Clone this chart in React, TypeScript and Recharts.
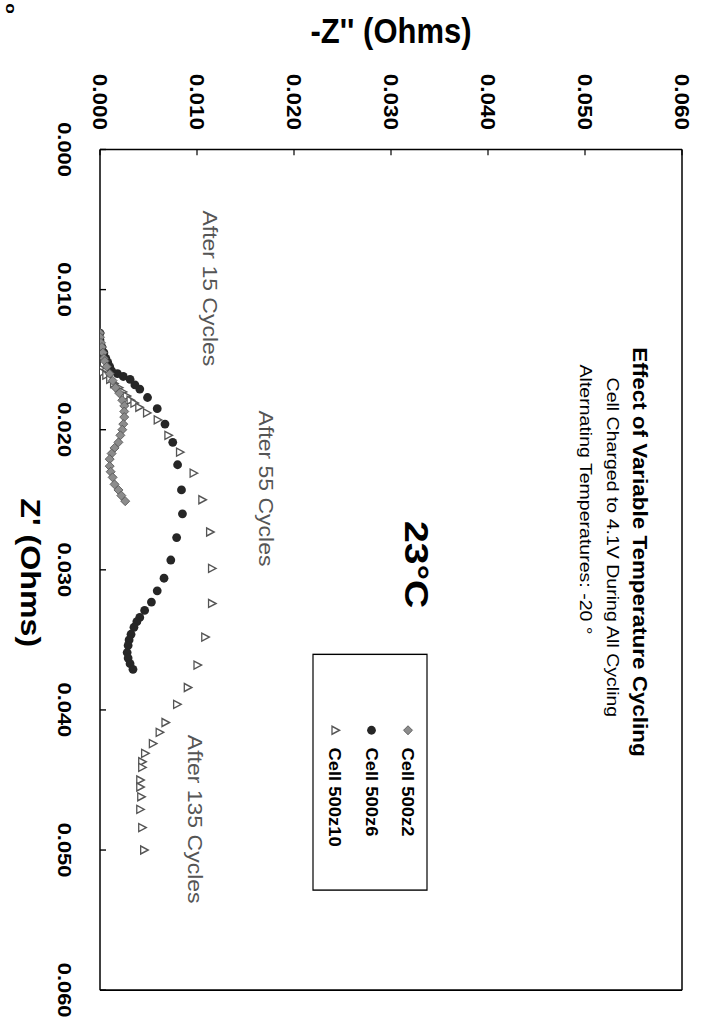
import React from 'react';
import { ScatterChart, Scatter, XAxis, YAxis, ReferenceLine } from 'recharts';

// Impedance readings (Ohms): Z' is the real part, -Z'' the negated imaginary part.
const cell500z2ZRe = [0.0131, 0.0134, 0.0138, 0.0141, 0.0145, 0.0149, 0.0151, 0.0155, 0.016, 0.0165, 0.017, 0.0174, 0.0179, 0.0183, 0.0187, 0.0191, 0.0196, 0.02, 0.0204, 0.0209, 0.0213, 0.0217, 0.0221, 0.0226, 0.023, 0.0234, 0.0239, 0.0243, 0.0247, 0.0251];
const cell500z2ZIm = [0.0, 0.0, 0.0001, 0.0002, 0.0003, 0.0004, 0.0005, 0.0007, 0.001, 0.0013, 0.0016, 0.002, 0.0023, 0.0025, 0.0025, 0.0025, 0.0024, 0.0023, 0.0021, 0.0019, 0.0015, 0.0012, 0.001, 0.001, 0.0011, 0.0013, 0.0015, 0.0019, 0.0022, 0.0026];

const cell500z6ZRe = [0.0131, 0.0136, 0.0141, 0.0145, 0.0149, 0.0152, 0.0155, 0.0158, 0.016, 0.0162, 0.0164, 0.0168, 0.0171, 0.0177, 0.0185, 0.0196, 0.0209, 0.0225, 0.0243, 0.026, 0.0277, 0.0293, 0.0306, 0.0315, 0.0323, 0.0329, 0.0334, 0.0337, 0.0341, 0.0346, 0.035, 0.0354, 0.0359, 0.0363, 0.0367, 0.0371];
const cell500z6ZIm = [0.0, 0.0, 0.0002, 0.0004, 0.0006, 0.0008, 0.001, 0.0012, 0.0018, 0.0024, 0.0031, 0.0036, 0.0041, 0.0049, 0.0059, 0.0067, 0.0075, 0.008, 0.0084, 0.0085, 0.0079, 0.0073, 0.0066, 0.0059, 0.0053, 0.0046, 0.0041, 0.0038, 0.0035, 0.0032, 0.003, 0.0029, 0.0028, 0.0029, 0.0031, 0.0034];

const cell500z10ZRe = [0.0156, 0.0159, 0.0161, 0.0164, 0.0167, 0.017, 0.0173, 0.0176, 0.0179, 0.0181, 0.0184, 0.0188, 0.0193, 0.0204, 0.0216, 0.0231, 0.025, 0.0273, 0.0299, 0.0324, 0.0348, 0.0368, 0.0384, 0.0396, 0.0409, 0.0416, 0.0424, 0.0431, 0.0437, 0.0441, 0.045, 0.0455, 0.0462, 0.0471, 0.0484, 0.05];
const cell500z10ZIm = [0.0, 0.0002, 0.0006, 0.001, 0.0014, 0.0019, 0.0023, 0.0027, 0.0031, 0.0035, 0.004, 0.0048, 0.0059, 0.007, 0.0082, 0.0096, 0.0105, 0.0113, 0.0115, 0.0115, 0.0108, 0.01, 0.009, 0.0079, 0.0067, 0.0061, 0.0054, 0.0046, 0.0043, 0.0043, 0.0041, 0.0041, 0.0042, 0.0041, 0.0043, 0.0045];

const axisTicks = [0, 0.01, 0.02, 0.03, 0.04, 0.05, 0.06];
const axisDomain: [number, number] = [0, 0.06];

const seriesNames = ['Cell 500z2', 'Cell 500z6', 'Cell 500z10'];

const toPoints = (re: number[], im: number[]) => re.map((v, i) => ({ zRe: v, zIm: im[i] }));

const data500z2 = toPoints(cell500z2ZRe, cell500z2ZIm);
const data500z6 = toPoints(cell500z6ZRe, cell500z6ZIm);
const data500z10 = toPoints(cell500z10ZRe, cell500z10ZIm);

// The chart is laid out landscape and then turned a quarter clockwise;
// S stretches the long page direction.
const S = 1.15;
const CHART_W = 901;
const CHART_H = 702;
const MARGIN = { top: 20, right: 40, bottom: 0, left: 0 };
const Y_AXIS_W = 130;
const X_AXIS_H = 100;
const PLOT_LEFT = MARGIN.left + Y_AXIS_W;
const PLOT_BOTTOM = CHART_H - MARGIN.bottom - X_AXIS_H;

const FONT = '"Liberation Sans", Arial, Helvetica, sans-serif';

const fmt = (v: number) => v.toFixed(3);

const ZReTick = (props: any) => {
  const { x, payload } = props;
  return (
    <g>
      <line x1={x} x2={x} y1={PLOT_BOTTOM} y2={PLOT_BOTTOM - 6} stroke="#000" strokeWidth={1.2} />
      <text x={x} y={PLOT_BOTTOM + 35} textAnchor="middle" dominantBaseline="central" fontFamily={FONT} fontWeight="bold" fontSize={19} fill="#000">
        {fmt(payload.value)}
      </text>
    </g>
  );
};

const ZImTick = (props: any) => {
  const { y, payload } = props;
  return (
    <g>
      <line x1={PLOT_LEFT} x2={PLOT_LEFT + 5} y1={y} y2={y} stroke="#000" strokeWidth={1.2} />
      <text x={PLOT_LEFT - 17} y={y} textAnchor="end" dominantBaseline="central" fontFamily={FONT} fontWeight="bold" fontSize={19.5} fill="#000">
        {fmt(payload.value)}
      </text>
    </g>
  );
};

const DiamondMark = (props: any) => {
  const { cx, cy } = props;
  const r = 4.5;
  return (
    <path
      d={`M${cx - r / S},${cy} L${cx},${cy - r} L${cx + r / S},${cy} L${cx},${cy + r} Z`}
      fill="#8c8c8c"
      stroke="#555"
      strokeWidth={0.8}
    />
  );
};

const CircleMark = (props: any) => {
  const { cx, cy } = props;
  const r = 4.4;
  return <ellipse cx={cx} cy={cy} rx={r / S} ry={r} fill="#262626" />;
};

const TriangleMark = (props: any) => {
  const { cx, cy } = props;
  return (
    <path
      d={`M${cx},${cy - 4.5} L${cx + 4 / S},${cy + 3} L${cx - 4 / S},${cy + 3} Z`}
      fill="#fff"
      stroke="#555"
      strokeWidth={1.3}
    />
  );
};

const legendMarks = [DiamondMark, CircleMark, TriangleMark];

const Overlay = () => (
  <svg width={CHART_W} height={CHART_H} style={{ position: 'absolute', left: 0, top: 0, pointerEvents: 'none' }}>
    {/* axis titles */}
    <text x={498} y={681} textAnchor="middle" fontFamily={FONT} fontWeight="bold" fontSize={28} fill="#000">
      Z' (Ohms)
    </text>
    <text x={37} y={311} transform="rotate(-90, 37, 311)" textAnchor="middle" fontFamily={FONT} fontWeight="bold" fontSize={31} fill="#000">
      -Z'' (Ohms)
    </text>
    <text x={7.5} y={690} textAnchor="middle" dominantBaseline="central" fontFamily={FONT} fontWeight="bold" fontSize={15} fill="#000">
      o
    </text>

    {/* heading */}
    <text x={480} y={62} textAnchor="middle" dominantBaseline="central" fontFamily={FONT} fontWeight="bold" fontSize={19.5} fill="#000">
      Effect of Variable Temperature Cycling
    </text>
    <text x={476} y={89} textAnchor="middle" dominantBaseline="central" fontFamily={FONT} fontSize={17} fill="#000">
      Cell Charged to 4.1V During All Cycling
    </text>
    <text x={317} y={116} textAnchor="start" dominantBaseline="central" fontFamily={FONT} fontSize={17} fill="#000">
      Alternating Temperatures: -20 °
    </text>
    <text x={491} y={285} textAnchor="middle" dominantBaseline="central" fontFamily={FONT} fontWeight="bold" fontSize={34} fill="#000">
      23°C
    </text>

    {/* legend */}
    <rect x={569} y={275} width={205} height={114} fill="#fff" stroke="#000" strokeWidth={1.2} />
    {seriesNames.map((name, i) => {
      const Mark = legendMarks[i];
      const y = 294 + i * 36.5;
      return (
        <g key={name}>
          <Mark cx={635} cy={y} />
          <text x={650} y={y} dominantBaseline="central" fontFamily={FONT} fontWeight="bold" fontSize={16} fill="#000">
            {name}
          </text>
        </g>
      );
    })}

    {/* cycle annotations */}
    <text x={183} y={492} dominantBaseline="central" fontFamily={FONT} fontSize={20} fill="#555">
      After 15 Cycles
    </text>
    <text x={357} y={436} dominantBaseline="central" fontFamily={FONT} fontSize={20} fill="#555">
      After 55 Cycles
    </text>
    <text x={639} y={507} dominantBaseline="central" fontFamily={FONT} fontSize={20} fill="#555">
      After 135 Cycles
    </text>
  </svg>
);

export default function App() {
  return (
    <div style={{ position: 'absolute', left: 0, top: 0, width: 702, height: 1036, overflow: 'hidden', background: '#fff' }}>
      <div
        style={{
          position: 'absolute',
          left: 0,
          top: 0,
          width: CHART_W,
          height: CHART_H,
          transformOrigin: '0 0',
          transform: `matrix(0, ${S}, -1, 0, ${CHART_H}, 0)`,
        }}
      >
        <ScatterChart width={CHART_W} height={CHART_H} margin={MARGIN}>
          <XAxis
            type="number"
            dataKey="zRe"
            domain={axisDomain}
            ticks={axisTicks}
            interval={0}
            allowDataOverflow
            height={X_AXIS_H}
            tickLine={false}
            axisLine={{ stroke: '#000', strokeWidth: 1.5 }}
            tick={<ZReTick />}
          />
          <YAxis
            type="number"
            dataKey="zIm"
            domain={axisDomain}
            ticks={axisTicks}
            interval={0}
            allowDataOverflow
            width={Y_AXIS_W}
            tickLine={false}
            axisLine={{ stroke: '#000', strokeWidth: 1.5 }}
            tick={<ZImTick />}
          />
          <ReferenceLine x={0.06} stroke="#000" strokeWidth={1.5} />
          <ReferenceLine y={0.06} stroke="#000" strokeWidth={1.5} />
          <Scatter name={seriesNames[2]} data={data500z10} shape={TriangleMark} isAnimationActive={false} />
          <Scatter name={seriesNames[1]} data={data500z6} shape={CircleMark} isAnimationActive={false} />
          <Scatter name={seriesNames[0]} data={data500z2} shape={DiamondMark} isAnimationActive={false} />
        </ScatterChart>
        <Overlay />
      </div>
    </div>
  );
}
